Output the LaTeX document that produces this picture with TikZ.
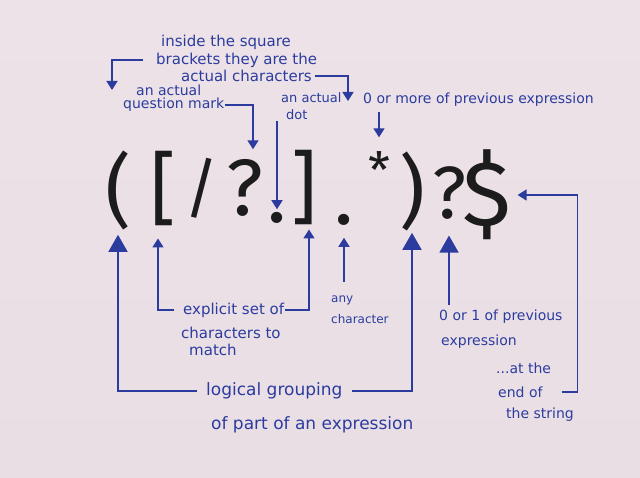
\documentclass[tikz,border=0pt]{standalone}
\usepackage{fontspec}
\setmainfont{DejaVu Sans}
\newfontfamily\markerfont{Fira Sans}
\usetikzlibrary{arrows.meta,calc}
\definecolor{Marker}{HTML}{2B3C9E}
\definecolor{InkBlack}{HTML}{1C1C1C}
\definecolor{PaperTop}{HTML}{EDE2E8}
\definecolor{PaperMid}{HTML}{E1E6EA}
\definecolor{PaperLow}{HTML}{EADEE5}

\begin{document}
\begin{tikzpicture}[x=1pt,y=-1pt,
    glyph/.style={inner sep=0pt,text=InkBlack,font=\markerfont\fontsize{#1}{#1}\selectfont},
    glyph/.default=80,
    note/.style={inner sep=1pt,anchor=west,text=Marker,font=\fontsize{#1}{#1}\selectfont},
    note/.default=13,
    arr/.style={-{Triangle[length=9pt,width=11pt]},line width=1.5pt,Marker},
    arrbig/.style={-{Triangle[length=17pt,width=19pt]},line width=1.5pt,Marker}]
  \shade[top color=PaperTop,middle color=PaperMid,bottom color=PaperLow] (0,0) rectangle (640,478);
  \useasboundingbox (0,0) rectangle (640,478);
  % the expression
  \node[glyph] (lp) at (118,191) {(};
  \node[glyph] (lb) at (163,189) {[};
  \node[glyph=66] (sl) at (202,188) {/};
  \node[glyph] (q1) at (245,188) {?};
  \node[glyph] (d1) at (277,218) {.};
  \node[glyph] (rb) at (304,188) {]};
  \node[glyph] (d2) at (344,220) {.};
  \node[glyph=50] (st) at (379,170) {*};
  \node[glyph] (rp) at (412,192) {)};
  \node[glyph=74] (q2) at (449,193) {?};
  \node[glyph=92] (dl) at (487,195) {\$};
  % notes above
  \node[note=15] (sq1) at (160,42) {inside the square};
  \node[note=15] (sq2) at (155,60) {brackets they are the};
  \node[note=15] (sq3) at (180,76) {actual characters};
  \coordinate (sqL) at (112,90);
  \coordinate (sqR) at (348,101);
  \draw[arr,shorten <=12pt] (sq2.west) -| (sqL);
  \draw[arr,shorten <=2pt] (sq3.east) -| (sqR);
  \node[note=14] (qm1) at (135,90) {an actual};
  \node[note=14] (qm2) at (122,105) {question mark};
  \draw[arr,shorten >=10pt] (qm2.east) -| ([xshift=8pt]q1.north);
  \node[note] (dt1) at (280,98) {an actual};
  \node[note] (dt2) at (285,115) {dot};
  \draw[arr,shorten >=3pt] (d1 |- dt2.south) -- (d1.north);
  \node[note=14] (zm) at (362,100) {0 or more of previous expression};
  \draw[arr,shorten <=4pt,shorten >=14pt] (st |- zm.south) -- (st.north);
  % notes below
  \node[note=17] (grp1) at (205,391) {logical grouping};
  \node[note=17] (grp2) at (210,425) {of part of an expression};
  \draw[arrbig,shorten <=8pt,shorten >=4pt] (grp1.west) -| (lp.south);
  \draw[arrbig,shorten <=8pt,shorten >=1pt] (grp1.east) -| (rp.south);
  \node[note=15] (exp1) at (182,310) {explicit set of};
  \node[note=15] (exp2) at (180,333) {characters to};
  \node[note=15] (exp3) at (188,350) {match};
  \draw[arr,shorten <=8pt,shorten >=12pt] (exp1.west) -| ([xshift=-5pt]lb.south);
  \draw[arr,shorten >=4pt] (exp1.east) -| ([xshift=5pt]rb.south);
  \node[note=12] (any1) at (330,300) {any};
  \node[note=12] (any2) at (330,319) {character};
  \draw[arr,shorten <=12pt,shorten >=12pt] (d2 |- any1.north) -- (d2.south);
  \node[note=14] (opt1) at (438,317) {0 or 1 of previous};
  \node[note=14] (opt2) at (440,342) {expression};
  \draw[arrbig,shorten <=4pt,shorten >=16pt] (q2 |- opt1.north) -- (q2.south);
  \node[note=14] (eos1) at (495,368) {...at the};
  \node[note=14] (eos2) at (497,392) {end of};
  \node[note=14] (eos3) at (505,415) {the string};
  \draw[arr,shorten <=18pt,shorten >=6pt] (eos2.east) -- ++(34,0) |- (dl.east);
\end{tikzpicture}
\end{document}
